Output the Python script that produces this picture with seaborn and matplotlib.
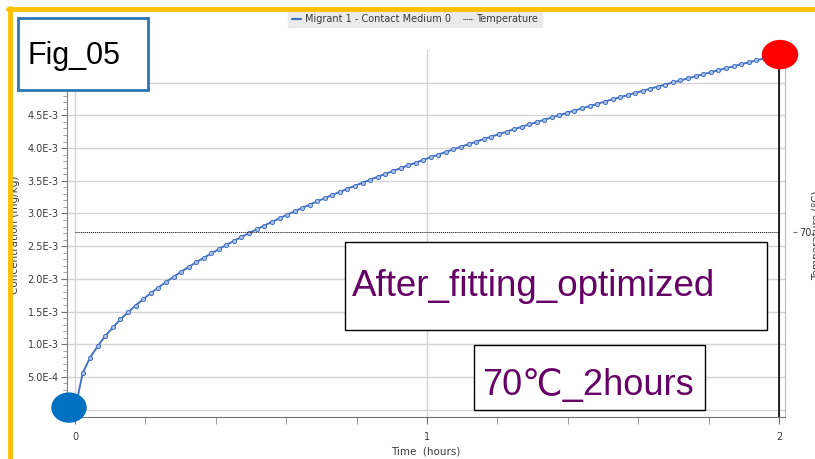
import numpy as np
import matplotlib.pyplot as plt
import seaborn as sns
from matplotlib.lines import Line2D
from matplotlib.patches import Rectangle, Ellipse
from matplotlib.ticker import MultipleLocator, FuncFormatter
from matplotlib.transforms import ScaledTranslation

# Data
time_h = [0, 0.022, 0.043, 0.065, 0.086, 0.108, 0.129, 0.151, 0.172, 0.194,
          0.215, 0.237, 0.258, 0.280, 0.301, 0.323, 0.344, 0.366, 0.387, 0.409,
          0.430, 0.452, 0.473, 0.495, 0.516, 0.538, 0.559, 0.581, 0.602, 0.624,
          0.645, 0.667, 0.688, 0.710, 0.731, 0.753, 0.774, 0.796, 0.817, 0.839,
          0.860, 0.882, 0.903, 0.925, 0.946, 0.968, 0.989, 1.011, 1.032, 1.054,
          1.075, 1.097, 1.118, 1.140, 1.161, 1.183, 1.204, 1.226, 1.247, 1.269,
          1.290, 1.312, 1.333, 1.355, 1.376, 1.398, 1.419, 1.441, 1.462, 1.484,
          1.505, 1.527, 1.548, 1.570, 1.591, 1.613, 1.634, 1.656, 1.677, 1.699,
          1.720, 1.742, 1.763, 1.785, 1.806, 1.828, 1.849, 1.871, 1.892, 1.914,
          1.935, 1.957, 1.978, 2.000]
# concentration in units of 1E-3 mg/kg
conc_e3 = [0, 0.563, 0.796, 0.975, 1.126, 1.259, 1.379, 1.490, 1.592, 1.689,
           1.780, 1.867, 1.950, 2.030, 2.107, 2.181, 2.252, 2.321, 2.389, 2.454,
           2.518, 2.580, 2.641, 2.700, 2.758, 2.815, 2.871, 2.925, 2.979, 3.032,
           3.084, 3.135, 3.185, 3.234, 3.283, 3.331, 3.378, 3.425, 3.470, 3.516,
           3.561, 3.605, 3.649, 3.692, 3.735, 3.777, 3.818, 3.860, 3.900, 3.941,
           3.981, 4.020, 4.060, 4.099, 4.137, 4.175, 4.213, 4.251, 4.288, 4.324,
           4.361, 4.397, 4.433, 4.469, 4.504, 4.539, 4.574, 4.608, 4.643, 4.677,
           4.711, 4.744, 4.777, 4.810, 4.843, 4.876, 4.908, 4.940, 4.972, 5.004,
           5.036, 5.067, 5.098, 5.129, 5.160, 5.191, 5.221, 5.251, 5.282, 5.311,
           5.341, 5.371, 5.400, 5.430]
temp_time = [0, 2]
temp_c = [70, 70]
y_ticks = [0, 0.5e-3, 1.0e-3, 1.5e-3, 2.0e-3, 2.5e-3, 3.0e-3, 3.5e-3, 4.0e-3, 4.5e-3, 5.0e-3]
x_ticks = [0, 1, 2]

conc = np.array(conc_e3) * 1e-3

sns.set_style("white")
plt.rcParams['font.family'] = ['DejaVu Sans']

W, H = 815, 459
def fx(x):
    return x / W
def fy(y):
    return 1 - y / H

blue = '#4472C4'
txt = '#3a3a3a'
fig = plt.figure(figsize=(8.15, 4.59), dpi=100)
ax = fig.add_axes([fx(67), fy(417), (785 - 67) / W, (417 - 50) / H])

sns.lineplot(x=time_h, y=conc, ax=ax, color=blue, lw=1.4, marker='o',
             markersize=3.0, markerfacecolor='#a9c1e6', markeredgecolor=blue,
             markeredgewidth=0.7, zorder=4)
ax.axvline(2, color='black', lw=1.2, zorder=3)

ax.set_xlim(-0.0227, 2.017)
ax.set_ylim(-0.113e-3, 5.50e-3)
ax.set_xticks(x_ticks)
ax.xaxis.set_minor_locator(MultipleLocator(0.2))
ax.set_yticks(y_ticks)
ax.yaxis.set_minor_locator(MultipleLocator(1e-4))

def sci(v, pos):
    if abs(v) < 1e-12:
        return ''
    e = int(np.floor(np.log10(abs(v)) + 1e-9))
    return f"{v / 10 ** e:.1f}E{e}"
ax.yaxis.set_major_formatter(FuncFormatter(sci))

ax.grid(True, which='major', color='#d4d4d4', lw=1.0)
ax.tick_params(axis='both', which='major', direction='out', length=4, width=0.8,
               color='#707070', labelsize=7, labelcolor=txt, pad=2,
               left=True, bottom=True)
ax.tick_params(axis='both', which='minor', direction='out', length=3, width=0.6,
               color='#909090', left=True, bottom=True)
ax.tick_params(axis='x', which='both', length=5, pad=6)

ax.spines['top'].set_visible(False)
ax.spines['left'].set_color('#808080')
ax.spines['bottom'].set_color('#707070')
ax.spines['right'].set_color('#b8b8b8')
ax.set_xlabel('Time  (hours)', fontsize=7.5, color=txt, labelpad=3)
ax.set_ylabel('')

# temperature axis
ax2 = ax.twinx()
ax2.plot(temp_time, temp_c, ls=(0, (1, 1)), color='black', lw=0.7)
ax2.set_ylim(0, 139)
ax2.set_yticks([70])
for s in ax2.spines.values():
    s.set_visible(False)
ax2.spines['right'].set_position(('outward', 6))
ax2.tick_params(axis='y', direction='out', length=3, width=0.8, color='#707070',
                labelsize=7, labelcolor=txt, pad=1.5)

# highlight ellipses on first and last points
t0 = fig.dpi_scale_trans + ScaledTranslation(time_h[0], conc[0], ax.transData)
ax2.add_artist(Ellipse((-0.06, 0.02), 0.34, 0.29, transform=t0,
                       color='#0070C0', clip_on=False, zorder=10))
t1 = fig.dpi_scale_trans + ScaledTranslation(time_h[-1], conc[-1], ax.transData)
ax2.add_artist(Ellipse((0.01, 0.0), 0.35, 0.28, transform=t1,
                       color='#FF0000', clip_on=False, zorder=10))

# legend
handles = [Line2D([], [], color=blue, lw=1.6),
           Line2D([], [], color='black', lw=0.7, ls=(0, (1, 1)))]
leg = fig.legend(handles, ['Migrant 1 - Contact Medium 0', 'Temperature'],
                 loc='center', bbox_to_anchor=(fx(415), fy(19)), ncol=2,
                 fontsize=7, frameon=True, fancybox=False, handlelength=1.0,
                 handletextpad=0.4, columnspacing=1.2, borderpad=0.35,
                 labelcolor=txt)
leg.get_frame().set_facecolor('#e6e6e6')
leg.get_frame().set_edgecolor('#e6e6e6')

# axis titles (the reference shows them partly cut by the frame/edge)
fig.text(fx(15), fy(235), 'Concentration (mg/kg)', rotation=90,
         ha='center', va='center', fontsize=7.5, color=txt)
fig.text(fx(817), fy(235), 'Temperature (ºC)', rotation=90,
         ha='center', va='center', fontsize=7.5, color=txt)

# annotation boxes
def box(x0, y0, x1, y1, ec, lw):
    fig.add_artist(Rectangle((fx(x0), fy(y1)), (x1 - x0) / W, (y1 - y0) / H,
                             transform=fig.transFigure, facecolor='white',
                             edgecolor=ec, lw=lw, zorder=5))

sans = ['Liberation Sans', 'DejaVu Sans']
box(18, 18, 148, 90, '#2E75B6', 2.0)
fig.text(fx(27), fy(56), 'Fig_05', fontsize=22, family=sans, color='black',
         ha='left', va='center', zorder=6)
box(345, 242, 767, 330, 'black', 1.0)
fig.text(fx(352), fy(287), 'After_fitting_optimized', fontsize=26.5, color='#660066',
         family=sans, ha='left', va='center', zorder=6)
box(474, 345, 705, 410, 'black', 1.0)
fig.text(fx(482), fy(386), '70℃_2hours', fontsize=26, color='#660066',
         family=sans, ha='left', va='center', zorder=6)

# orange frame
fig.add_artist(Rectangle((0, 0), fx(7), 1, transform=fig.transFigure,
                         facecolor='white', edgecolor='none', zorder=7))
fig.add_artist(Line2D([fx(9.5), fx(9.5)], [0, fy(8)], color='#FFC000', lw=3.5, zorder=8))
fig.add_artist(Line2D([fx(8), 1], [fy(8.5), fy(8.5)], color='#FFC000', lw=3.5, zorder=8))

fig.savefig('out.png', dpi=100)
